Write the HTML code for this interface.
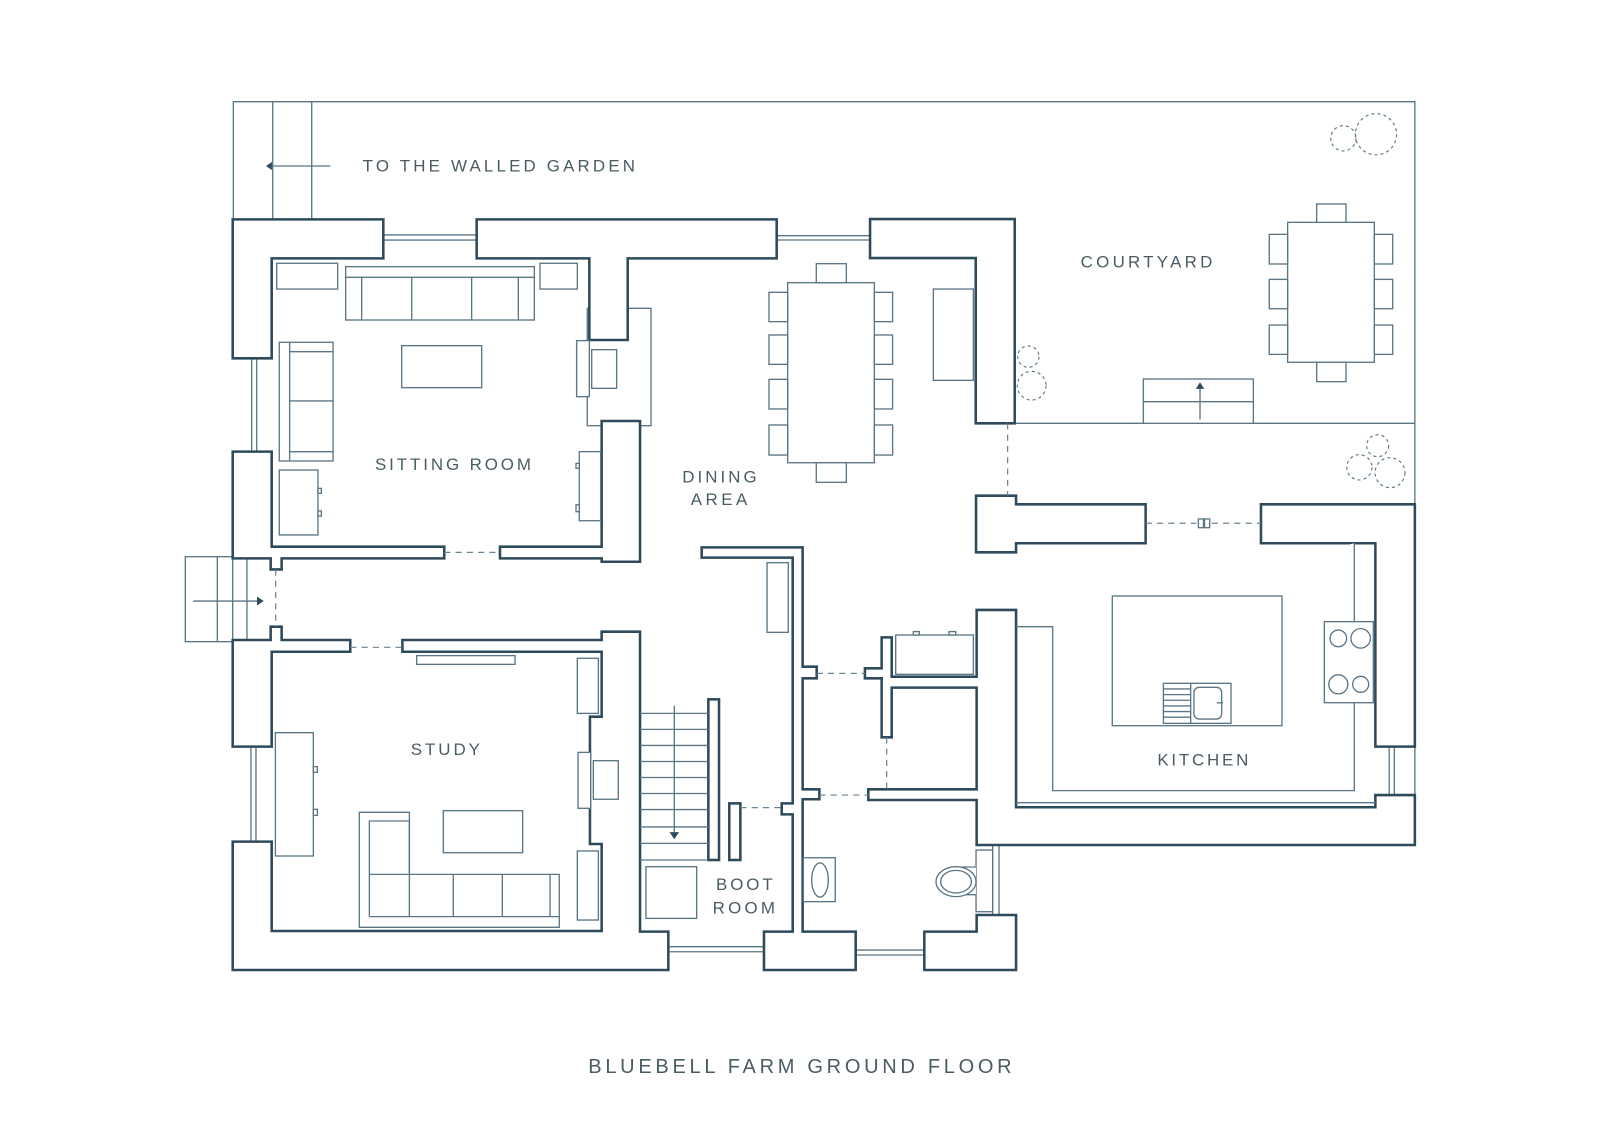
<!DOCTYPE html>
<html><head><meta charset="utf-8"><style>
html,body{margin:0;padding:0;background:#fff;}
svg{display:block}
text{font-family:"Liberation Sans",sans-serif;fill:#4a5c63;}
</style></head><body>
<svg width="1600" height="1132" viewBox="0 0 1559.45 1103.3" preserveAspectRatio="none" xmlns="http://www.w3.org/2000/svg">
<rect x="0" y="0" width="1559.45" height="1103.3" fill="#fff"/>
<g fill="none" stroke="#5a7686" stroke-width="1.3">
<path d="M227.4,213.8 V99.1 H1379 V491.5"/>
<path d="M265.8,99.1 V213.8 M303.8,99.1 V213.8"/>
<path d="M989,412.6 H1379"/>
<path d="M322,161.8 H262"/>
<path d="M373.6,229 H464.6 M373.6,234 H464.6"/>
<path d="M757,229.7 H848 M757,233.9 H848"/>
<path d="M245.3,349.2 V440.2 M250.2,349.2 V440.2"/>
<path d="M244.6,727.7 V820.3 M249.5,727.7 V820.3"/>
<path d="M651.4,922.7 H744.6 M651.4,927.6 H744.6"/>
<path d="M834,926 H900.9 M834,930.8 H900.9"/>
<path d="M967.5,824.6 V891.8 M973.7,824.6 V891.8"/>
<path d="M1354,727.7 V774.9 M1359,727.7 V774.9 M1379,727.7 V774.9"/>
<rect x="180.6" y="542.6" width="46.2" height="82.8"/>
<path d="M211.8,542.6 V625.4 M240.7,542.6 V625.4"/>
<path d="M188.4,585.8 H252"/>
</g>
<path d="M259.3,161.8 L265,157.8 L265,165.8 Z" fill="#2e4b5c"/>
<path d="M257,585.8 L250.5,581.5 L250.5,590.1 Z" fill="#2e4b5c"/>

<g fill="#fff" stroke="#5a7686" stroke-width="1.3">
<rect x="572.4" y="300.5" width="62.1" height="114.4"/>
</g>

<g fill="#fff" stroke="#2e4b5c" stroke-width="2.5" stroke-linejoin="miter">
<path d="M226.8,213.8 H373.6 V251.8 H264.8 V349.2 H226.8 Z"/>
<path d="M464.6,213.8 H757 V251.8 H611.8 V331.4 H574.4 V251.8 H464.6 Z"/>
<path d="M848,213.5 H989 V412.6 H951 V251.5 H848 Z"/>
<path d="M226.8,440.2 H264.8 V532.8 H433 V544.2 H274.5 V555 H263.8 V544.2 H226.8 Z"/>
<path d="M487.3,532.8 H586.4 V410.3 H623.8 V547.5 H586.4 V544.2 H487.3 Z"/>
<path d="M226.8,623.8 H263.8 V610.8 H274.5 V623.8 H341.4 V635.2 H264.8 V727.7 H226.8 Z"/>
<path d="M586.4,615.7 H623.8 V908 H651.4 V945.4 H226.8 V820.3 H264.8 V907.4 H586.4 V822.6 H575 V698.5 H586.4 V635.2 H392.2 V623.8 H586.4 Z"/>
<path d="M683.9,533.5 H782.3 V649.8 H796 V661.1 H782.3 V769.3 H798.6 V779 H782.3 V908 H834 V945.4 H744.6 V908 H772.6 V793.7 H761.9 V783 H772.6 V543.5 H683.9 Z"/>
<path d="M859.3,621.2 H869.1 V659.5 H951.9 V594.5 H990.3 V786.8 H1340.5 V774.9 H1379 V823.6 H951.9 V779.7 H846.3 V769.3 H951.9 V670.2 H869.1 V718.6 H859.3 V661.1 H843 V651.4 H859.3 Z"/>
<path d="M900.9,908 H951.9 V891.8 H990.3 V945.4 H900.9 Z"/>
<path d="M1229,491.5 H1379 V727.7 H1340.5 V529.5 H1229 Z"/>
<path d="M951.3,483.1 H990.3 V491.5 H1116.6 V529.5 H990.3 V538.3 H951.3 Z"/>
<rect x="690.4" y="681.6" width="10.4" height="156.6"/>
<rect x="710.8" y="783" width="10.8" height="55.2"/>
</g>

<g fill="none" stroke="#6b8391" stroke-width="1.2" stroke-dasharray="6,5">
<path d="M433,538.4 H487.3"/>
<path d="M341.4,630.9 H392.2"/>
<path d="M268.7,555 V610.8"/>
<path d="M982.1,412.6 V483.1"/>
<path d="M1116.6,510 H1166 M1181,510 H1229"/>
<path d="M796,656.3 H843"/>
<path d="M798.6,774.9 H846.3"/>
<path d="M864.2,718.6 V769.3"/>
<path d="M721.6,787.2 H761.9"/>
</g>

<g fill="#fff" stroke="#5a7686" stroke-width="1.3">
<rect x="269.7" y="256.6" width="59.4" height="25.1"/>
<rect x="526.3" y="256.6" width="36.4" height="25.1"/>
<rect x="336.9" y="259.9" width="183.9" height="52"/>
<path d="M336.9,270.3 H520.8 M352.5,270.3 V311.9 M401.3,270.3 V311.9 M459.7,270.3 V311.9 M505.2,270.3 V311.9"/>
<rect x="391.5" y="336.9" width="78" height="40.9"/>
<rect x="272.2" y="333.6" width="52.4" height="115.7"/>
<path d="M282.3,333.6 V449.3 M282.3,342.8 H324.6 M282.3,390.8 H324.6 M282.3,440.2 H324.6"/>
<rect x="272.2" y="458.1" width="37.7" height="63.3"/>
<rect x="309.9" y="476" width="3.3" height="4.8"/>
<rect x="309.9" y="498" width="3.3" height="5"/>
<rect x="562" y="332" width="12.4" height="54.6"/>
<rect x="576.7" y="340.8" width="24.3" height="37.7"/>
<rect x="564.6" y="440.2" width="20.8" height="67.3"/>
<rect x="561.4" y="451.6" width="3.2" height="4.8"/>
<rect x="561.4" y="492" width="3.2" height="6.7"/>
<rect x="406.1" y="639" width="95.9" height="8.5"/>
<rect x="268.4" y="714.1" width="37" height="120.2"/>
<rect x="305.4" y="747.2" width="3.9" height="5.5"/>
<rect x="305.4" y="788.8" width="3.9" height="5.9"/>
<rect x="562.7" y="641.6" width="20.5" height="53.7"/>
<rect x="563.4" y="733.3" width="12.3" height="54.5"/>
<rect x="578.3" y="741.4" width="24.3" height="37.6"/>
<rect x="562.7" y="829.4" width="20.5" height="67.3"/>
<rect x="432.1" y="790.1" width="77.3" height="41"/>
<path d="M350.2,791.7 H399 V852.2 H545.1 V903.8 H350.2 Z"/>
<path d="M360,893.4 V800.2 H399 M360,893.4 H545.1 M399,800.2 V893.4 M360,852.2 H399 M441.8,852.2 V893.4 M489.6,852.2 V893.4 M536.1,852.2 V893.4"/>
<path d="M623.8,695.3 H690.4 M623.8,710.9 H690.4 M623.8,726.5 H690.4 M623.8,742.2 H690.4 M623.8,757.8 H690.4 M623.8,773.4 H690.4 M623.8,789 H690.4 M623.8,806 H690.4 M623.8,822 H690.4 M623.8,838.2 H690.4"/>
<path d="M657.2,687.8 V811"/>
<rect x="629.6" y="844.7" width="49.4" height="50.4"/>
<rect x="747.6" y="548.4" width="20.7" height="67.9"/>
<rect x="873" y="618.9" width="75.7" height="38.3"/>
<rect x="890.2" y="615.6" width="5.8" height="3.3"/>
<rect x="925" y="615.6" width="6.5" height="3.3"/>
<rect x="783" y="836" width="31.1" height="42.8"/>
<ellipse cx="799.2" cy="857.7" rx="8.1" ry="16.6"/>
<rect x="951.3" y="828.5" width="16.2" height="60.1"/>
<path d="M951.3,845 H938 V872 H951.3"/>
<ellipse cx="931.8" cy="859.3" rx="19.5" ry="14.6"/>
<ellipse cx="931.8" cy="859.3" rx="15" ry="11"/>
<rect x="767.7" y="275.5" width="84.5" height="175.5"/>
<rect x="749.5" y="284.9" width="18.2" height="28.6"/>
<rect x="749.5" y="326.5" width="18.2" height="28.6"/>
<rect x="749.5" y="369.7" width="18.2" height="28.9"/>
<rect x="749.5" y="414.2" width="18.2" height="29.3"/>
<rect x="852.2" y="284.9" width="17.8" height="28.6"/>
<rect x="852.2" y="326.5" width="17.8" height="28.6"/>
<rect x="852.2" y="369.7" width="17.8" height="28.9"/>
<rect x="852.2" y="414.2" width="17.8" height="29.3"/>
<rect x="795.6" y="257" width="29.3" height="18.5"/>
<rect x="795.6" y="451" width="29.3" height="19.1"/>
<rect x="909.7" y="281.7" width="39" height="89"/>
<rect x="1255" y="216.7" width="84.5" height="136.4"/>
<rect x="1237.1" y="228.4" width="17.9" height="28.9"/>
<rect x="1237.1" y="272.3" width="17.9" height="28.6"/>
<rect x="1237.1" y="316.8" width="17.9" height="28.6"/>
<rect x="1339.5" y="228.4" width="17.9" height="28.9"/>
<rect x="1339.5" y="272.3" width="17.9" height="28.6"/>
<rect x="1339.5" y="316.8" width="17.9" height="28.6"/>
<rect x="1283.3" y="198.8" width="28.6" height="17.9"/>
<rect x="1283.3" y="353.1" width="28.6" height="18.9"/>
<rect x="1114.4" y="369.4" width="107.2" height="43.2"/>
<path d="M1114.4,391.5 H1221.6 M1169.6,408.7 V378"/>
<path d="M990.3,610.8 H1026 V770.6 H1320 V529.5"/>
<path d="M990.3,782.3 H1340.5"/>
<rect x="1290.8" y="605.9" width="47.7" height="79"/>
<circle cx="1304.4" cy="622.2" r="8.1"/>
<circle cx="1326.2" cy="622.2" r="9.5"/>
<circle cx="1304.4" cy="667" r="9.3"/>
<circle cx="1326.2" cy="667" r="7.8"/>
<rect x="1084.1" y="580.9" width="165.4" height="126.4"/>
<rect x="1133.9" y="666" width="65.9" height="39"/>
<path d="M1160.5,666 V705 M1133.9,671.5 H1160.5 M1133.9,677 H1160.5 M1133.9,682.5 H1160.5 M1133.9,688 H1160.5 M1133.9,693.5 H1160.5 M1133.9,699 H1160.5"/>
<rect x="1163.7" y="669.9" width="27" height="30.9" rx="5"/>
<path d="M1186,685 H1192"/>
<rect x="1168" y="505.8" width="5" height="8.5"/>
<rect x="1174" y="505.8" width="5" height="8.5"/>
</g>
<path d="M657.2,818 L652.5,811 L661.9,811 Z" fill="#2e4b5c"/>
<path d="M1169.6,372.5 L1165.5,379 L1173.7,379 Z" fill="#2e4b5c"/>

<g fill="none" stroke="#5a7686" stroke-width="1.1" stroke-dasharray="3,3">
<circle cx="1309.3" cy="134.8" r="12.3"/>
<circle cx="1341.1" cy="130.9" r="20.1"/>
<circle cx="1002.3" cy="347.6" r="10.4"/>
<circle cx="1005.5" cy="375.9" r="14"/>
<circle cx="1342.7" cy="434.4" r="10.7"/>
<circle cx="1324.9" cy="455.5" r="12.3"/>
<circle cx="1354.8" cy="460.7" r="14.6"/>
</g>

<g font-size="16.5">
<text x="353.5" y="167.3" textLength="265.4" lengthAdjust="spacing">TO THE WALLED GARDEN</text>
<text x="365.5" y="458" textLength="152" lengthAdjust="spacing">SITTING ROOM</text>
<text x="665" y="470.4" textLength="72.5" lengthAdjust="spacing">DINING</text>
<text x="673.2" y="492.2" textLength="55.2" lengthAdjust="spacing">AREA</text>
<text x="1053.3" y="260.9" textLength="128.3" lengthAdjust="spacing">COURTYARD</text>
<text x="400.3" y="735.9" textLength="67.5" lengthAdjust="spacing">STUDY</text>
<text x="1128" y="746.3" textLength="88.7" lengthAdjust="spacing">KITCHEN</text>
<text x="697.9" y="867.4" textLength="55.2" lengthAdjust="spacing">BOOT</text>
<text x="694.6" y="890.2" textLength="60.8" lengthAdjust="spacing">ROOM</text>
</g>
<text x="573.4" y="1046" font-size="19.5" textLength="412.6" lengthAdjust="spacing">BLUEBELL FARM GROUND FLOOR</text>
</svg>
</body></html>
